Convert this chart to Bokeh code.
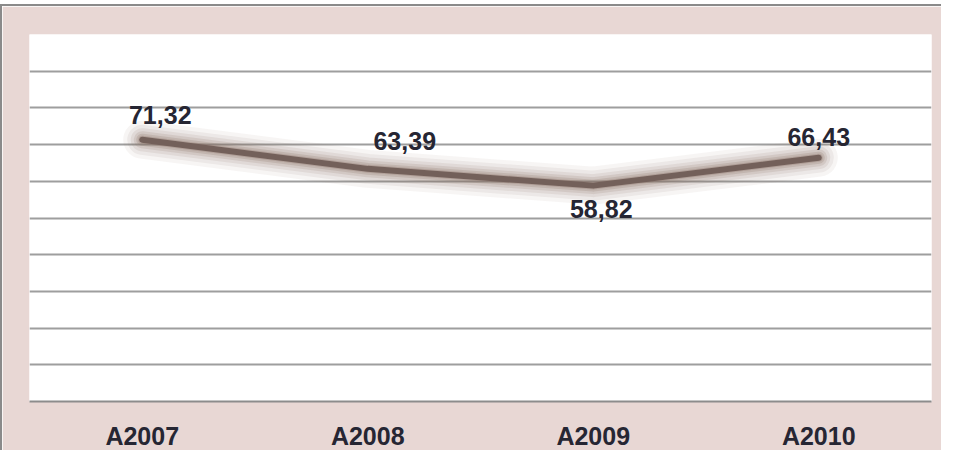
from bokeh.plotting import figure
from bokeh.models import ColumnDataSource, FixedTicker, Range1d, FactorRange
from bokeh.embed import file_html
from bokeh.resources import INLINE
from bokeh.core.properties import value

# ---- data ----
categories = ["A2007", "A2008", "A2009", "A2010"]
values = [71.32, 63.39, 58.82, 66.43]
labels = ["71,32", "63,39", "58,82", "66,43"]
y_ticks = [0, 10, 20, 30, 40, 50, 60, 70, 80, 90, 100]

# label placement (pixels, style only)
label_dx = [18, 37, 8, 0]
label_dy = [-25, -28, 23, -21]

PINK = "#e8d7d4"
TEXT = "#262633"
LINE = "#73605a"
GLOW = "#8a7166"
FONT = "Liberation Sans"

p = figure(
    x_range=FactorRange(*categories), y_range=Range1d(0, 100),
    width=941, height=446, output_backend="svg", toolbar_location=None,
    min_border_left=27, min_border_right=12, min_border_top=28, min_border_bottom=47,
)
p.styles = {"margin-top": "4px", "border-left": "2px solid #8a8a8a",
            "border-top": "2px solid #8a8a8a"}
p.border_fill_color = PINK
p.background_fill_color = "white"
p.outline_line_color = None

p.yaxis.visible = False
p.xgrid.visible = False
p.ygrid.ticker = FixedTicker(ticks=y_ticks)
p.ygrid.grid_line_color = "#9e9e9e"
p.ygrid.grid_line_width = 2

xa = p.xaxis[0]
xa.axis_line_color = "#8c8c8c"
xa.axis_line_width = 2
xa.major_tick_line_color = None
xa.minor_tick_line_color = None
xa.major_tick_out = 0
xa.major_tick_in = 0
xa.major_label_standoff = 20
xa.major_label_text_font = FONT
xa.major_label_text_font_style = "bold"
xa.major_label_text_font_size = "25px"
xa.major_label_text_color = TEXT

src = ColumnDataSource(dict(x=categories, y=values, label=labels, dx=label_dx, dy=label_dy))

# soft glow around the line
for w, a in [(38, 0.07), (30, 0.09), (23, 0.12), (17, 0.16), (12, 0.22), (8, 0.3)]:
    p.line("x", "y", source=src, line_width=w, line_color=GLOW, line_alpha=a,
           line_join="round", line_cap="round")
p.line("x", "y", source=src, line_width=6, line_color=LINE,
       line_join="round", line_cap="round")

p.text("x", "y", text="label", source=src, x_offset="dx", y_offset="dy",
       text_align="center", text_baseline="alphabetic",
       text_font=value(FONT), text_font_style="bold", text_font_size="25px",
       text_color=TEXT)

open("out.html", "w").write(file_html(p, INLINE))
